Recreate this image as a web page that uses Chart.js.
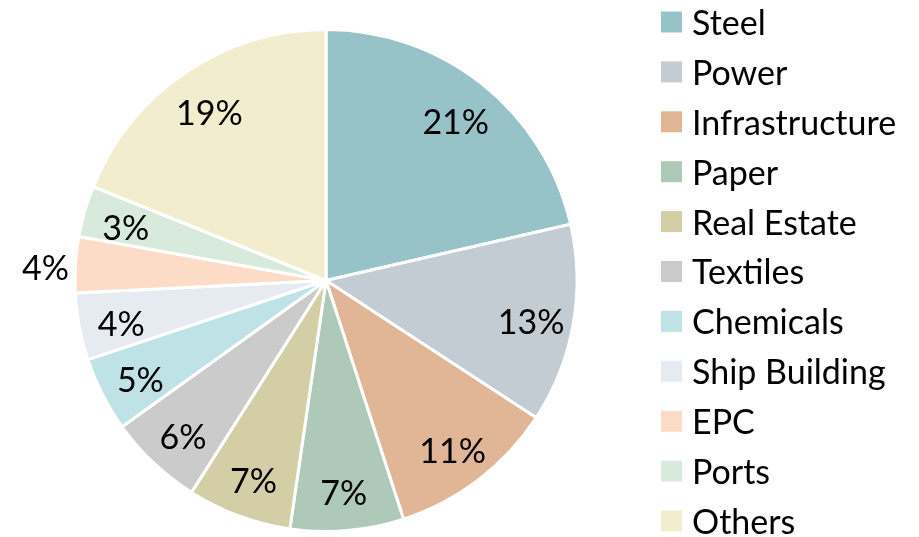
<!DOCTYPE html>
<html><head><meta charset="utf-8">
<script src="https://cdn.jsdelivr.net/npm/chart.js@4"></script>
<style>html,body{margin:0;padding:0;background:#fff}#wrap{width:919px;height:537px}</style>
</head><body><div id="wrap"><canvas id="c" width="919" height="537"></canvas></div>
<script>
const categories = ["Steel","Power","Infrastructure","Paper","Real Estate","Textiles","Chemicals","Ship Building","EPC","Ports","Others"];
const shares = [21.4,12.8,10.8,7.3,6.7,6.1,4.8,4.3,3.6,3.3,18.9];
const labels = ["21%","13%","11%","7%","7%","6%","5%","4%","4%","3%","19%"];
const colors = ["#97C2C7","#C3CBD3","#E0B697","#AFC9B8","#D4CEA6","#CBCBCB","#BFE2E6","#E6EAF1","#FDDCC7","#D7EADC","#F2EDCE"];
const outsideLabels = ["EPC"];
const FONT = "Lato, 'Open Sans', sans-serif";
const FS = 34;

const labelPlugin = {
  id: 'labelsAndLegend',
  afterDatasetsDraw(chart) {
    const ctx = chart.ctx;
    const meta = chart.getDatasetMeta(0);
    ctx.save();
    ctx.font = FS + "px " + FONT;
    ctx.fillStyle = "#000";
    ctx.textAlign = "center";
    ctx.textBaseline = "middle";
    meta.data.forEach((arc, i) => {
      const p = arc.getProps(['x','y','startAngle','endAngle','outerRadius'], true);
      const mid = (p.startAngle + p.endAngle) / 2;
      const r = outsideLabels.includes(categories[i]) ? p.outerRadius * 1.12 : p.outerRadius * 0.83;
      ctx.fillText(labels[i], p.x + Math.cos(mid) * r, p.y + Math.sin(mid) * r + 6);
    });
    // legend
    ctx.textAlign = "left";
    categories.forEach((c, i) => {
      const y = 22 + i * 49.9;
      ctx.fillStyle = colors[i];
      ctx.fillRect(661, y - 10.5, 21, 21);
      ctx.fillStyle = "#000";
      ctx.fillText(c, 692, y + 2);
    });
    ctx.restore();
  }
};

new Chart(document.getElementById('c'), {
  type: 'pie',
  data: { labels: categories, datasets: [{ data: shares, backgroundColor: colors, borderColor: "#fff", borderWidth: 3 }] },
  options: {
    responsive: false,
    animation: false,
    layout: { padding: { left: 73, right: 340, top: 28, bottom: 4 } },
    plugins: { legend: { display: false }, tooltip: { enabled: false } }
  },
  plugins: [labelPlugin]
});
</script></body></html>
